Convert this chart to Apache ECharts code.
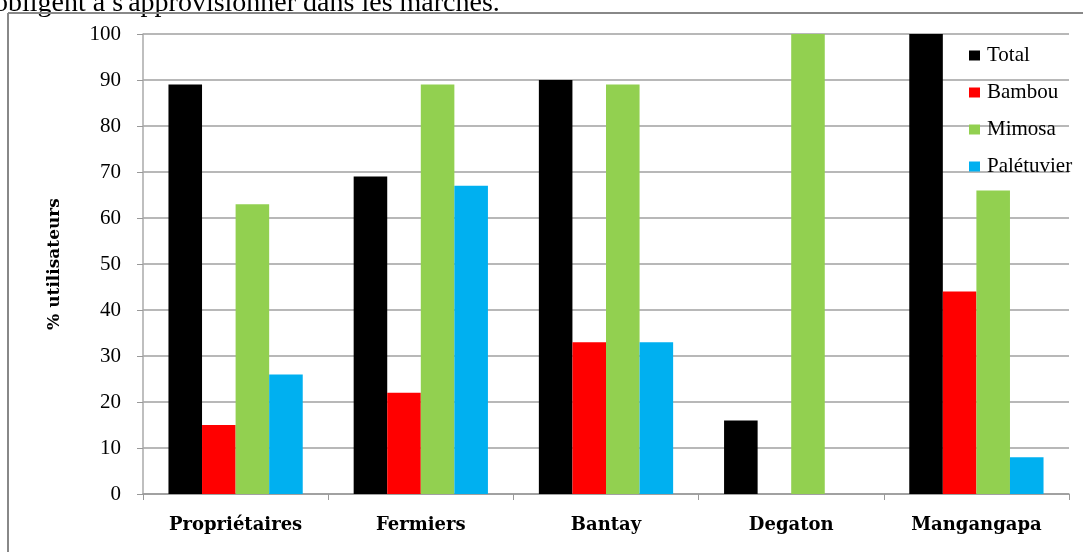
<!DOCTYPE html>
<html><head><meta charset="utf-8">
<script src="https://cdn.jsdelivr.net/npm/echarts@6/dist/echarts.min.js"></script>
<style>html,body{margin:0;padding:0;background:#fff}#c{width:1083px;height:552px}</style>
</head><body><div id="c"></div>
<script>
const categories = ['Propriétaires','Fermiers','Bantay','Degaton','Mangangapa'];
const seriesNames = ['Total','Bambou','Mimosa','Palétuvier'];
const totalVals = [89, 69, 90, 16, 100];
const bambouVals = [15, 22, 33, 0, 44];
const mimosaVals = [63, 89, 89, 100, 66];
const paletuvierVals = [26, 67, 33, 0, 8];
const yTicks = [0,10,20,30,40,50,60,70,80,90,100];
const colors = ['#000000','#ff0000','#92d050','#00b0f0'];
const serifB = 'DejaVu Serif';
const serifR = 'Liberation Serif';

const chart = echarts.init(document.getElementById('c'));
const vals = [totalVals, bambouVals, mimosaVals, paletuvierVals];
chart.setOption({
  animation: false,
  color: colors,
  grid: {left: 143, right: 14, top: 34, bottom: 58},
  legend: {
    orient: 'vertical', left: 964, top: 40, itemGap: 16,
    itemWidth: 11, itemHeight: 10, icon: 'rect',
    textStyle: {fontFamily: serifR, fontSize: 21, color: '#000', padding: [0,0,0,2]},
    data: seriesNames
  },
  xAxis: {
    type: 'category', data: categories,
    axisLine: {lineStyle: {color: '#999', width: 1.5}},
    axisTick: {show: true, length: 6, lineStyle: {color: '#999'}},
    axisLabel: {fontFamily: serifB, fontSize: 18, fontWeight: 'bold', color: '#000', margin: 22}
  },
  yAxis: {
    type: 'value', min: 0, max: 100, interval: 10,
    name: '% utilisateurs', nameLocation: 'middle', nameGap: 80,
    nameTextStyle: {fontFamily: serifB, fontSize: 17, fontWeight: 'bold', color: '#000'},
    axisLine: {show: true, lineStyle: {color: '#aaa', width: 1.5}},
    axisTick: {show: true, length: 6, lineStyle: {color: '#999'}},
    axisLabel: {fontFamily: serifR, fontSize: 21, color: '#000', margin: 22,
      formatter: v => yTicks.includes(v) ? String(v) : ''},
    splitLine: {lineStyle: {color: '#a0a0a0', width: 1.5}}
  },
  graphic: [
    {type: 'text', x: -6, y: 18, style: {text: "obligent à s'approvisionner dans les marchés.", font: '28px "Liberation Serif", serif', fill: '#000', verticalAlign: 'bottom'}},
    {type: 'line', shape: {x1: 8, y1: 13, x2: 1083, y2: 13}, style: {stroke: '#888', lineWidth: 2}},
    {type: 'line', shape: {x1: 8, y1: 13, x2: 8, y2: 552}, style: {stroke: '#888', lineWidth: 2}}
  ],
  series: seriesNames.map((n, i) => ({
    name: n, type: 'bar', data: vals[i], barGap: '0%', barCategoryGap: '27.5%',
    itemStyle: {color: colors[i]}
  }))
});
</script></body></html>
